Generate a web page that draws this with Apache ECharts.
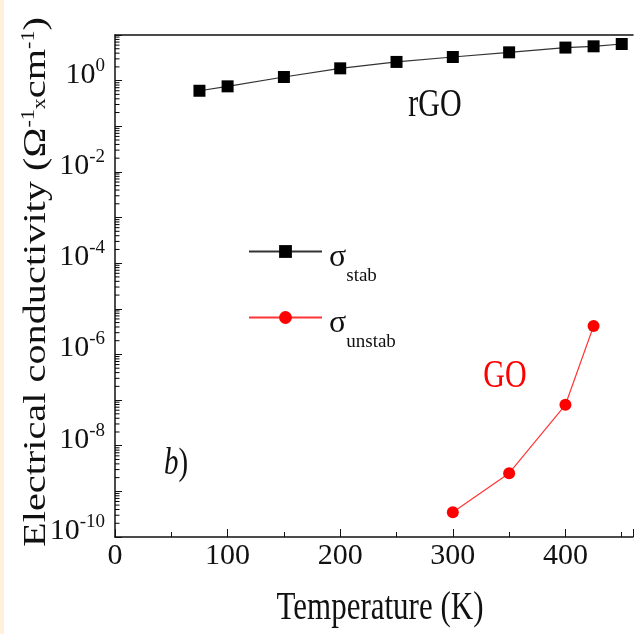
<!DOCTYPE html>
<html>
<head>
<meta charset="utf-8">
<script src="https://cdn.jsdelivr.net/npm/echarts@6/dist/echarts.min.js"></script>
<style>
html,body{margin:0;padding:0;background:#fff;}
#c{width:636px;height:634px;}
</style>
</head>
<body>
<div id="c"></div>
<script>
// Data
var stabT = [75, 100, 150, 200, 250, 300, 350, 400, 425, 450];
var stabSigma = [0.60, 0.75, 1.2, 1.86, 2.57, 3.3, 4.17, 5.3, 5.65, 6.35];
var unstabT = [300, 350, 400, 425];
var unstabSigma = [3.5e-10, 2.5e-9, 7.9e-8, 4.2e-6];
var xTicks = [0, 100, 200, 300, 400];
var yDecadeMin = -10, yDecadeMax = 1;

var SERIF = '"Liberation Serif", "DejaVu Serif", serif';

// minor log tick values (2..9 x 10^n)
var minorVals = [];
for (var e = yDecadeMin; e < yDecadeMax; e++) {
  for (var k = 2; k <= 9; k++) minorVals.push([0, k * Math.pow(10, e)]);
}

var chart = echarts.init(document.getElementById('c'), null, {renderer: 'canvas'});
var option = {
  backgroundColor: '#ffffff',
  animation: false,
  grid: {left: 115, right: 0, top: 35, bottom: 97, containLabel: false},
  xAxis: [{
    type: 'value', min: 0, max: 460, interval: 100,
    axisLine: {show: true, lineStyle: {color: '#111', width: 1.5}},
    axisTick: {show: true, inside: true, length: 8, lineStyle: {color: '#111', width: 1}},
    minorTick: {show: true, splitNumber: 2, length: 5, lineStyle: {color: '#111', width: 1}},
    axisLabel: {fontFamily: SERIF, fontSize: 30, color: '#111', margin: 4,
      formatter: function (v) { return xTicks.indexOf(v) >= 0 ? String(v) : ''; }},
    splitLine: {show: false}
  }, {
    type: 'value', min: 0, max: 460, position: 'top',
    axisLine: {show: true, onZero: false, lineStyle: {color: '#111', width: 1.5}},
    axisTick: {show: false}, axisLabel: {show: false}, splitLine: {show: false}
  }],
  yAxis: [{
    type: 'log', logBase: 10, min: Math.pow(10, yDecadeMin), max: Math.pow(10, yDecadeMax), interval: 1,
    axisLine: {show: true, onZero: false, lineStyle: {color: '#111', width: 1.5}},
    axisTick: {show: true, inside: true, length: 7, lineStyle: {color: '#111', width: 1}},
    minorTick: {show: false},
    axisLabel: {fontFamily: SERIF, fontSize: 30, color: '#111', margin: 10, padding: [0, 0, 12, 0],
      formatter: function (v) {
        var ex = Math.round(Math.log(v) / Math.LN10);
        if (ex % 2 !== 0) return '';
        return '10{sup|' + ex + '}';
      },
      rich: {sup: {fontFamily: SERIF, fontSize: 19, color: '#111', padding: [0, 0, 18, 0]}}
    },
    splitLine: {show: false}
  }],
  legend: {
    orient: 'vertical', left: 248, top: 242, itemWidth: 73, itemHeight: 16, itemGap: 22,
    padding: 0,
    data: ['stab', 'unstab'],
    formatter: function (n) { return '{s|σ}{b|' + n + '}'; },
    textStyle: {
      fontFamily: SERIF, color: '#111',
      rich: {
        s: {fontFamily: SERIF, fontSize: 32, color: '#111', padding: [13, 0, 0, 2]},
        b: {fontFamily: SERIF, fontSize: 19, color: '#111', padding: [50, 0, 0, 0]}
      }
    }
  },
  series: [{
    name: 'stab', type: 'line', xAxisIndex: 0, yAxisIndex: 0,
    data: stabT.map(function (t, i) { return [t, stabSigma[i]]; }),
    symbol: 'rect', symbolSize: 12, showSymbol: true,
    lineStyle: {color: '#333', width: 1.2}, itemStyle: {color: '#000'}
  }, {
    name: 'unstab', type: 'line', xAxisIndex: 0, yAxisIndex: 0,
    data: unstabT.map(function (t, i) { return [t, unstabSigma[i]]; }),
    symbol: 'circle', symbolSize: 12, showSymbol: true,
    lineStyle: {color: '#ff3535', width: 1.2}, itemStyle: {color: '#ff0000'}
  }, {
    name: 'minorTicks', type: 'custom', xAxisIndex: 0, yAxisIndex: 0, silent: true,
    data: minorVals,
    renderItem: function (params, api) {
      var p = api.coord([0, api.value(1)]);
      return {type: 'line', shape: {x1: p[0], y1: p[1], x2: p[0] + 4.5, y2: p[1]},
        style: {stroke: '#000', lineWidth: 1}};
    }
  }],
  graphic: [
    {type: 'rect', left: 0, top: 0, shape: {width: 4, height: 634}, style: {fill: '#fff1dc'}, z: 0},
    {type: 'text', x: 36, y: 282, rotation: Math.PI / 2, scaleX: 1.3, scaleY: 1.05,
      style: {text: 'Electrical conductivity (Ω{sup|-1}{sub|x}cm{sup|-1})',
        font: '31px ' + SERIF, fill: '#111', align: 'center', verticalAlign: 'middle',
        rich: {
          sup: {fontFamily: SERIF, fontSize: 17, fill: '#111', padding: [0, 0, 12, 0]},
          sub: {fontFamily: SERIF, fontSize: 17, fill: '#111', padding: [8, 0, 0, 0]}
        }}},
    {type: 'text', x: 380, y: 608, scaleX: 1, scaleY: 1.3,
      style: {text: 'Temperature (K)', font: '31px ' + SERIF, fill: '#111', align: 'center', verticalAlign: 'middle'}},
    {type: 'text', x: 435, y: 106, scaleY: 1.3,
      style: {text: 'rGO', font: '30px ' + SERIF, fill: '#111', align: 'center', verticalAlign: 'middle'}},
    {type: 'text', x: 505, y: 377, scaleY: 1.3,
      style: {text: 'GO', font: '30px ' + SERIF, fill: '#ff0000', align: 'center', verticalAlign: 'middle'}},
    {type: 'text', x: 176, y: 464, scaleY: 1.3,
      style: {text: '{i|b})', font: '29px ' + SERIF, fill: '#111', align: 'center', verticalAlign: 'middle',
        rich: {i: {fontFamily: SERIF, fontSize: 29, fontStyle: 'italic', fill: '#111'}}}}
  ]
};
chart.setOption(option);
</script>
</body>
</html>
